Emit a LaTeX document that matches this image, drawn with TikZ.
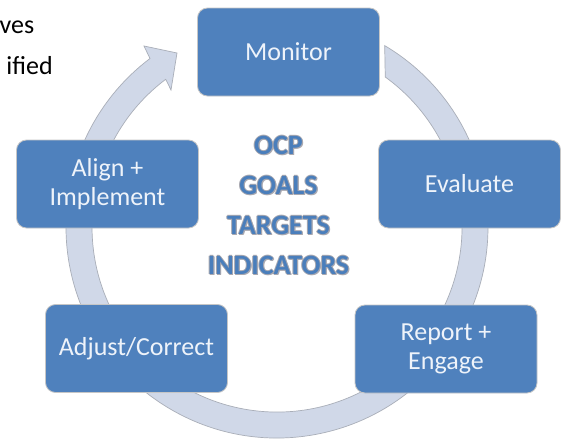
\documentclass[tikz,border=0pt]{standalone}
\usepackage{fontspec}
\setmainfont{Carlito}
\definecolor{boxblue}{HTML}{4F81BD}
\definecolor{ringfill}{HTML}{D0D8E8}
\definecolor{ringedge}{HTML}{A9AEB8}
\definecolor{txtlight}{HTML}{EEF3FA}
\definecolor{ctrblue}{HTML}{4A7EBB}
\definecolor{ctrshade}{HTML}{A8A8B0}
\begin{document}
\begin{tikzpicture}[x=1pt,y=1pt,
  stagebox/.style={rectangle, rounded corners=10pt, fill=boxblue, draw=gray!45,
    line width=0.8pt, minimum width=182pt, minimum height=88pt, text=txtlight,
    font=\fontsize{26}{29}\selectfont, align=center, inner sep=0pt},
  ctrtext/.style={anchor=base, inner sep=0pt, font=\bfseries\fontsize{28}{34}\selectfont},
  sidetext/.style={anchor=base east, inner sep=0pt, text=black, font=\fontsize{26}{30}\selectfont},
  ringstyle/.style={fill=ringfill, draw=ringedge, line width=0.7pt}]
\useasboundingbox (0,0) rectangle (563,-439);
\fill[white] (0,0) rectangle (563,-439);

% fragments of surrounding text
\node[sidetext] (t1) at (34.5,-34) {ves};
\node[sidetext] (t2) at (53,-74) {ified};

% circular arrow ring
\path[ringstyle] (384.7,-45.6) arc[start angle=59.3, end angle=-233, radius=211pt]
  -- (144,-46) -- (177,-53) -- (171,-90) -- (165.7,-79.3)
  arc[start angle=-233, end angle=54.2, radius=185pt] -- cycle;

% stage boxes
\node[stagebox] (mon) at (288.5,-52) {Monitor};
\node[stagebox] (eva) at (469.5,-184) {Evaluate};
\node[stagebox] (rep) at (446,-349) {Report +\\Engage};
\node[stagebox] (adj) at (136.5,-348.5) {Adjust/Correct};
\node[stagebox] (ali) at (107.5,-184) {Align +\\Implement};

% centre text with soft grey outline
\foreach \dx/\dy [count=\i] in {1/0,-1/0,0/1,0/-1,1.2/-1.2} {
  \node[ctrtext, text=ctrshade] (sa\i) at (278.5+\dx,-154+\dy) {OCP};
  \node[ctrtext, text=ctrshade] (sb\i) at (278.5+\dx,-194+\dy) {GOALS};
  \node[ctrtext, text=ctrshade] (sc\i) at (278.5+\dx,-234+\dy) {TARGETS};
  \node[ctrtext, text=ctrshade] (sd\i) at (278.5+\dx,-274+\dy) {INDICATORS};
}
\node[ctrtext, text=ctrblue] (ocp) at (278.5,-154) {OCP};
\node[ctrtext, text=ctrblue] (goals) at (278.5,-194) {GOALS};
\node[ctrtext, text=ctrblue] (targets) at (278.5,-234) {TARGETS};
\node[ctrtext, text=ctrblue] (indic) at (278.5,-274) {INDICATORS};
\end{tikzpicture}
\end{document}
